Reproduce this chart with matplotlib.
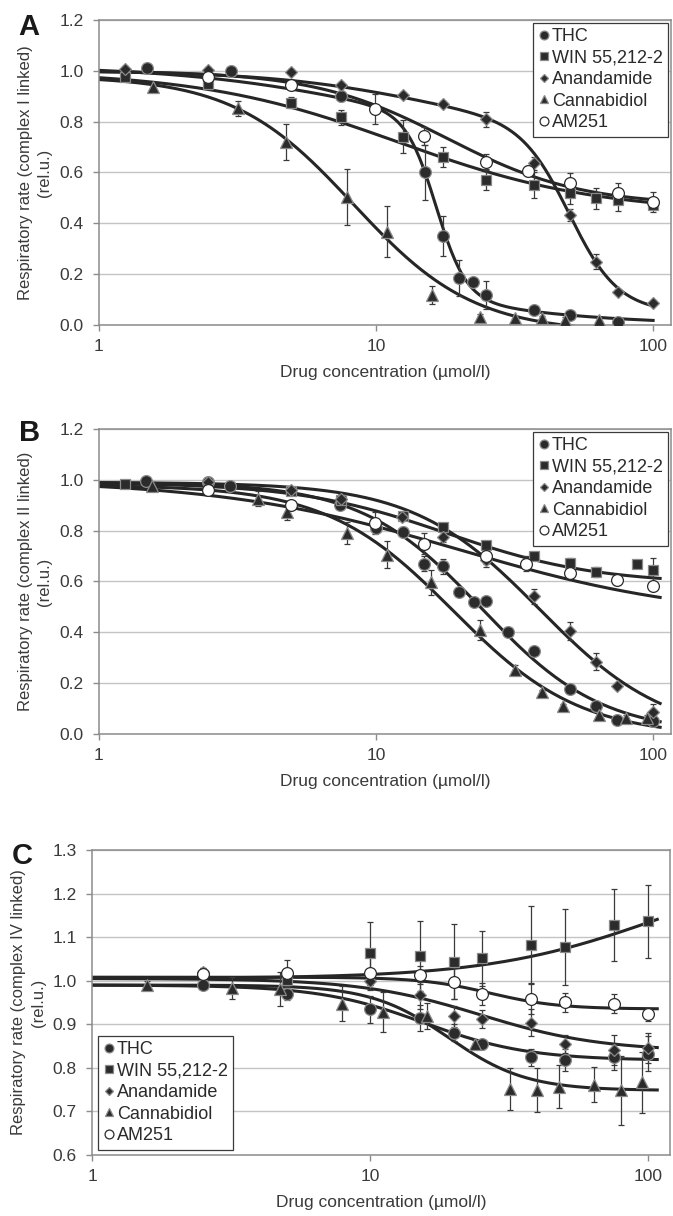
import numpy as np
import matplotlib.pyplot as plt
from matplotlib.lines import Line2D

plt.rcParams['font.family'] = ['Liberation Sans', 'DejaVu Sans']

nombres = ['THC', 'WIN 55,212-2', 'Anandamide', 'Cannabidiol', 'AM251']

# ---------------- Panel A (complejo I) ----------------
a_thc_x = [1.49, 2.99, 7.46, 15.0, 17.5, 20.0, 22.4, 25.0, 37.3, 50.0, 75.0]
a_thc_y = [1.01, 1.00, 0.90, 0.60, 0.35, 0.184, 0.17, 0.118, 0.059, 0.039, 0.013]
a_thc_e = [0.01, 0.01, 0.02, 0.11, 0.08, 0.07, 0.01, 0.055, 0.01, 0.01, 0.01]

a_win_x = [1.24, 2.48, 4.95, 7.46, 12.5, 17.5, 25.0, 37.3, 50.0, 62.3, 75.0, 100.0]
a_win_y = [0.974, 0.948, 0.875, 0.817, 0.741, 0.662, 0.570, 0.551, 0.518, 0.498, 0.49, 0.472]
a_win_e = [0.01, 0.01, 0.02, 0.03, 0.065, 0.04, 0.04, 0.05, 0.04, 0.04, 0.04, 0.01]

a_ana_x = [1.24, 2.48, 4.95, 7.46, 12.5, 17.5, 25.0, 37.3, 50.0, 62.3, 75.0, 100.0]
a_ana_y = [1.007, 1.003, 0.997, 0.944, 0.905, 0.870, 0.809, 0.636, 0.433, 0.249, 0.131, 0.088]
a_ana_e = [0.01, 0.01, 0.01, 0.01, 0.01, 0.01, 0.03, 0.025, 0.025, 0.03, 0.01, 0.01]

a_cbd_x = [1.57, 3.18, 4.75, 7.87, 11.0, 15.9, 23.7, 31.7, 39.7, 47.9, 63.7]
a_cbd_y = [0.935, 0.852, 0.721, 0.505, 0.367, 0.118, 0.033, 0.026, 0.026, 0.02, 0.02]
a_cbd_e = [0.01, 0.03, 0.07, 0.11, 0.10, 0.035, 0.01, 0.01, 0.01, 0.01, 0.01]

a_am_x = [2.48, 4.95, 9.91, 14.9, 25.0, 35.3, 50.0, 75.0, 100.0]
a_am_y = [0.977, 0.944, 0.849, 0.744, 0.643, 0.607, 0.557, 0.518, 0.485]
a_am_e = [0.01, 0.01, 0.06, 0.035, 0.03, 0.02, 0.04, 0.04, 0.04]

# parametros de ajuste: arriba, abajo, c50, n, frac, c50b, nb
a_ajuste = [
    [1.02, 0.0, 16.5, 8.0, 0.7, 10.0, 1.2],
    [1.0, 0.44, 12.0, 1.2, 1.0, 1.0, 1.0],
    [1.0, 0.04, 50.0, 5.0, 0.75, 15.0, 1.5],
    [0.98, -0.03, 8.3, 2.0, 1.0, 1.0, 1.0],
    [1.0, 0.47, 18.0, 1.8, 1.0, 1.0, 1.0],
]

# ---------------- Panel B (complejo II) ----------------
b_thc_x = [1.48, 2.48, 2.97, 7.42, 10.0, 12.5, 14.9, 17.5, 19.9, 22.5, 24.9, 29.9, 37.3, 50.0, 62.0, 74.0, 100.0]
b_thc_y = [0.997, 0.99, 0.974, 0.902, 0.81, 0.795, 0.67, 0.66, 0.56, 0.518, 0.523, 0.401, 0.325, 0.178, 0.109, 0.054, 0.05]
b_thc_e = [0.01, 0.01, 0.01, 0.01, 0.02, 0.02, 0.03, 0.03, 0.01, 0.01, 0.01, 0.01, 0.01, 0.01, 0.01, 0.01, 0.01]

b_win_x = [1.24, 4.93, 7.46, 12.5, 17.5, 25.0, 37.3, 50.0, 62.0, 87.7, 100.0]
b_win_y = [0.985, 0.955, 0.922, 0.856, 0.813, 0.742, 0.70, 0.673, 0.636, 0.67, 0.647]
b_win_e = [0.01, 0.01, 0.01, 0.01, 0.01, 0.01, 0.01, 0.02, 0.02, 0.01, 0.045]

b_ana_x = [2.48, 4.95, 7.46, 12.4, 17.5, 25.0, 37.3, 50.0, 62.0, 74.0, 100.0]
b_ana_y = [0.99, 0.961, 0.926, 0.854, 0.775, 0.686, 0.542, 0.404, 0.285, 0.188, 0.087]
b_ana_e = [0.01, 0.01, 0.02, 0.01, 0.02, 0.03, 0.03, 0.035, 0.035, 0.01, 0.03]

b_cbd_x = [1.56, 3.76, 4.76, 7.87, 11.0, 15.8, 23.7, 31.8, 39.8, 47.4, 63.7, 79.8, 95.1]
b_cbd_y = [0.977, 0.926, 0.872, 0.791, 0.706, 0.597, 0.408, 0.253, 0.164, 0.109, 0.076, 0.063, 0.063]
b_cbd_e = [0.01, 0.03, 0.03, 0.045, 0.052, 0.05, 0.04, 0.02, 0.01, 0.01, 0.01, 0.01, 0.01]

b_am_x = [2.48, 4.95, 9.9, 14.9, 25.0, 34.9, 50.0, 74.0, 100.0]
b_am_y = [0.961, 0.902, 0.83, 0.749, 0.699, 0.67, 0.633, 0.607, 0.581]
b_am_e = [0.01, 0.01, 0.045, 0.04, 0.03, 0.03, 0.01, 0.02, 0.01]

b_ajuste = [
    [0.99, 0.0, 24.0, 2.0, 1.0, 1.0, 1.0],
    [0.99, 0.59, 18.0, 1.6, 1.0, 1.0, 1.0],
    [0.99, -0.01, 39.0, 1.9, 1.0, 1.0, 1.0],
    [0.98, -0.01, 19.0, 1.9, 1.0, 1.0, 1.0],
    [1.0, 0.45, 20.0, 1.0, 1.0, 1.0, 1.0],
]

# ---------------- Panel C (complejo IV) ----------------
c_thc_x = [2.51, 5.02, 10.0, 15.1, 20.1, 25.3, 37.8, 50.3, 75.7, 100.0]
c_thc_y = [0.990, 0.970, 0.934, 0.914, 0.881, 0.854, 0.824, 0.818, 0.824, 0.832]
c_thc_e = [0.01, 0.015, 0.03, 0.03, 0.02, 0.01, 0.02, 0.025, 0.03, 0.04]

c_win_x = [5.02, 10.0, 15.1, 20.1, 25.3, 37.8, 50.3, 75.7, 100.0]
c_win_y = [1.002, 1.063, 1.057, 1.044, 1.051, 1.083, 1.077, 1.128, 1.136]
c_win_e = [0.02, 0.072, 0.08, 0.087, 0.063, 0.088, 0.087, 0.083, 0.083]

c_ana_x = [2.51, 10.0, 15.1, 20.1, 25.3, 37.8, 50.3, 75.7, 100.0]
c_ana_y = [1.02, 0.999, 0.966, 0.918, 0.912, 0.904, 0.855, 0.841, 0.845]
c_ana_e = [0.01, 0.01, 0.03, 0.025, 0.02, 0.03, 0.02, 0.035, 0.035]

c_cbd_x = [1.58, 3.18, 4.74, 7.95, 11.1, 16.0, 23.9, 31.9, 39.9, 47.7, 64.1, 79.9, 95.5]
c_cbd_y = [0.989, 0.984, 0.981, 0.947, 0.928, 0.918, 0.854, 0.751, 0.749, 0.757, 0.761, 0.748, 0.767]
c_cbd_e = [0.01, 0.025, 0.04, 0.04, 0.045, 0.03, 0.01, 0.048, 0.05, 0.05, 0.04, 0.08, 0.07]

c_am_x = [2.51, 5.02, 10.0, 15.1, 20.1, 25.3, 37.8, 50.3, 75.7, 100.0]
c_am_y = [1.015, 1.017, 1.018, 1.013, 0.998, 0.969, 0.958, 0.950, 0.947, 0.923]
c_am_e = [0.015, 0.03, 0.04, 0.02, 0.04, 0.025, 0.035, 0.022, 0.022, 0.015]

c_ajuste = [
    [0.99, 0.817, 15.6, 2.3, 1.0, 1.0, 1.0],
    [1.005, 1.28, 110.0, 1.4, 1.0, 1.0, 1.0],
    [1.005, 0.838, 25.0, 2.0, 1.0, 1.0, 1.0],
    [0.99, 0.748, 19.2, 3.1, 1.0, 1.0, 1.0],
    [1.008, 0.935, 27.0, 3.5, 1.0, 1.0, 1.0],
]

# estilo de cada serie
marcadores = ['o', 's', 'D', '^', 'o']
tamanos = [8.5, 7, 6, 8.5, 8.5]
rellenos = ['#2b2b2b', '#2b2b2b', '#2b2b2b', '#2b2b2b', 'white']
bordes = ['#8a8a8a', '#8a8a8a', '#8a8a8a', '#8a8a8a', '#2b2b2b']
gris_txt = '#3a3a3a'


def curva(x, arriba, abajo, c50, n, frac, c50b, nb):
    """Curva dosis-respuesta (una o dos fases)"""
    f1 = frac / (1 + (x / c50) ** n)
    f2 = (1 - frac) / (1 + (x / c50b) ** nb)
    return abajo + (arriba - abajo) * (f1 + f2)


def dibujar_panel(ax, series, ajustes, xfin, ylim, yticks, ylabel, letra, pos_letra, loc_leyenda):
    xs = np.logspace(0, np.log10(xfin), 300)
    for i, (x, y, e) in enumerate(series):
        ax.plot(xs, curva(xs, *ajustes[i]), color='#262626', lw=2.2, zorder=2)
        ax.errorbar(x, y, yerr=e, fmt='none', ecolor='#3a3a3a', elinewidth=0.9,
                    capsize=2.5, capthick=0.9, zorder=3)
        ax.plot(x, y, linestyle='none', marker=marcadores[i], ms=tamanos[i],
                mfc=rellenos[i], mec=bordes[i], mew=0.9, zorder=4)

    ax.set_xscale('log')
    ax.set_xlim(1, 116)
    ax.set_ylim(*ylim)
    ax.set_xticks([1, 10, 100])
    ax.set_xticklabels(['1', '10', '100'])
    ax.minorticks_off()
    ax.set_yticks(yticks)
    ax.set_yticklabels(['%.1f' % v for v in yticks])
    ax.grid(axis='y', color='#c4c4c4', lw=1.0)
    ax.set_axisbelow(True)
    for s in ax.spines.values():
        s.set_color('#8c8c8c')
        s.set_linewidth(1.1)
    ax.tick_params(colors='#8c8c8c', labelcolor=gris_txt, labelsize=12.5,
                   length=4, width=1, pad=7)
    ax.tick_params(axis='x', pad=6)
    ax.set_xlabel('Drug concentration (µmol/l)', fontsize=12.5, color=gris_txt, labelpad=8)
    ax.set_ylabel(ylabel, fontsize=12, color=gris_txt, labelpad=5, linespacing=1.35)
    ax.text(pos_letra[0], pos_letra[1], letra, transform=ax.transAxes, fontsize=21,
            fontweight='bold', color='#1a1a1a', ha='center', va='center')

    manejadores = [Line2D([], [], linestyle='none', marker=marcadores[i], ms=tamanos[i] * 0.75,
                          mfc=rellenos[i], mec=bordes[i] if i < 4 else '#2b2b2b', mew=0.9)
                   for i in range(5)]
    if loc_leyenda == 'upper right':
        anclaje = (1.0, 1.0)
        pad = 0.15
    else:
        anclaje = (0.0, 0.0)
        pad = 0.3
    ley = ax.legend(manejadores, nombres, loc=loc_leyenda, bbox_to_anchor=anclaje,
                    borderaxespad=pad, fontsize=13, frameon=True, fancybox=False,
                    framealpha=1, edgecolor='#3a3a3a', handlelength=0.6,
                    handletextpad=0.15, labelspacing=0.25, borderpad=0.3)
    ley.get_frame().set_linewidth(0.9)
    ley.set_zorder(10)
    for t in ley.get_texts():
        t.set_color('#2a2a2a')


fig = plt.figure(figsize=(6.73, 12.16), dpi=100)

ax_a = fig.add_axes([0.1467, 0.7327, 0.9970 - 0.1467, 0.9836 - 0.7327])
ax_b = fig.add_axes([0.1467, 0.3964, 0.9970 - 0.1467, 0.6472 - 0.3964])
ax_c = fig.add_axes([0.1371, 0.0502, 0.9955 - 0.1371, 0.3010 - 0.0502])

dibujar_panel(ax_a,
              [(a_thc_x, a_thc_y, a_thc_e), (a_win_x, a_win_y, a_win_e),
               (a_ana_x, a_ana_y, a_ana_e), (a_cbd_x, a_cbd_y, a_cbd_e),
               (a_am_x, a_am_y, a_am_e)],
              a_ajuste, 100, (0, 1.2), [0.0, 0.2, 0.4, 0.6, 0.8, 1.0, 1.2],
              'Respiratory rate (complex I linked)\n(rel.u.)', 'A', (-0.123, 0.977), 'upper right')

dibujar_panel(ax_b,
              [(b_thc_x, b_thc_y, b_thc_e), (b_win_x, b_win_y, b_win_e),
               (b_ana_x, b_ana_y, b_ana_e), (b_cbd_x, b_cbd_y, b_cbd_e),
               (b_am_x, b_am_y, b_am_e)],
              b_ajuste, 106, (0, 1.2), [0.0, 0.2, 0.4, 0.6, 0.8, 1.0, 1.2],
              'Respiratory rate (complex II linked)\n(rel.u.)', 'B', (-0.12, 0.987), 'upper right')

dibujar_panel(ax_c,
              [(c_thc_x, c_thc_y, c_thc_e), (c_win_x, c_win_y, c_win_e),
               (c_ana_x, c_ana_y, c_ana_e), (c_cbd_x, c_cbd_y, c_cbd_e),
               (c_am_x, c_am_y, c_am_e)],
              c_ajuste, 108, (0.6, 1.3), [0.6, 0.7, 0.8, 0.9, 1.0, 1.1, 1.2, 1.3],
              'Respiratory rate (complex IV linked)\n(rel.u.)', 'C', (-0.122, 0.98), 'lower left')
ax_c.set_xlim(1, 120)

fig.savefig('out.png', dpi=100)
